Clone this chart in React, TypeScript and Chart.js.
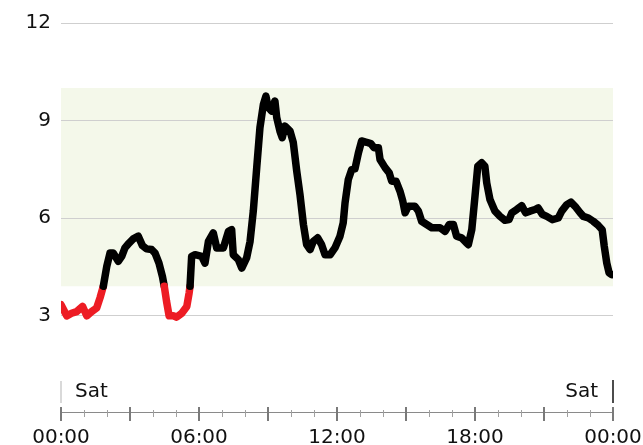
import React, { useEffect, useRef } from 'react';
import { Chart, registerables } from 'chart.js';

Chart.register(...registerables);

// Time of day (hours since midnight) and glucose readings (mmol/L)
const hours = [
  0.0, 0.25, 0.46, 0.68, 0.94, 1.12, 1.33, 1.55, 1.7, 1.84, 1.99, 2.13, 2.27, 2.49, 2.64, 2.78, 2.96, 3.14, 3.36, 3.54,
  3.72, 3.94, 4.09, 4.26, 4.41, 4.49, 4.59, 4.7, 4.88, 5.03, 5.25, 5.47, 5.57, 5.61, 5.68, 5.83, 6.12, 6.26, 6.41, 6.62,
  6.77, 7.06, 7.28, 7.42, 7.49, 7.71, 7.86, 8.07, 8.22, 8.36, 8.51, 8.65, 8.8, 8.91, 9.01, 9.16, 9.3, 9.38, 9.52, 9.62,
  9.74, 9.96, 10.1, 10.25, 10.39, 10.54, 10.68, 10.83, 10.97, 11.16, 11.33, 11.48, 11.7, 11.91, 12.13, 12.27, 12.35, 12.49, 12.64, 12.78,
  12.93, 13.07, 13.29, 13.47, 13.61, 13.8, 13.87, 14.09, 14.27, 14.38, 14.57, 14.74, 14.86, 14.96, 15.1, 15.39, 15.54, 15.68, 15.9, 16.12,
  16.48, 16.7, 16.88, 17.06, 17.2, 17.42, 17.64, 17.71, 17.86, 18.0, 18.12, 18.29, 18.43, 18.51, 18.65, 18.87, 19.09, 19.3, 19.48, 19.6,
  19.81, 20.03, 20.2, 20.39, 20.61, 20.75, 20.93, 21.12, 21.36, 21.62, 21.77, 21.99, 22.17, 22.35, 22.57, 22.71, 22.93, 23.14, 23.36, 23.53,
  23.62, 23.73, 23.83, 23.94,
];
const glucose = [
  3.33, 2.99, 3.07, 3.12, 3.28, 2.99, 3.12, 3.23, 3.55, 3.9, 4.51, 4.92, 4.92, 4.67, 4.82, 5.08, 5.23, 5.36, 5.44, 5.15,
  5.05, 5.03, 4.92, 4.61, 4.2, 3.9, 3.43, 2.99, 2.99, 2.95, 3.07, 3.28, 3.69, 3.9, 4.82, 4.87, 4.82, 4.61, 5.28, 5.54,
  5.08, 5.08, 5.59, 5.64, 4.87, 4.72, 4.46, 4.77, 5.28, 6.21, 7.55, 8.78, 9.5, 9.75, 9.4, 9.29, 9.6, 9.09, 8.67, 8.47,
  8.83, 8.67, 8.32, 7.44, 6.72, 5.8, 5.18, 5.03, 5.28, 5.39, 5.18, 4.87, 4.87, 5.08, 5.44, 5.85, 6.47, 7.18, 7.49, 7.51,
  8.0, 8.37, 8.33, 8.29, 8.16, 8.16, 7.8, 7.55, 7.39, 7.13, 7.13, 6.82, 6.52, 6.16, 6.36, 6.36, 6.21, 5.9, 5.8, 5.7,
  5.7, 5.59, 5.8, 5.8, 5.44, 5.39, 5.23, 5.18, 5.64, 6.67, 7.59, 7.7, 7.59, 7.08, 6.57, 6.21, 6.05, 5.93, 5.95, 6.16,
  6.26, 6.38, 6.16, 6.21, 6.26, 6.31, 6.11, 6.05, 5.95, 6.0, 6.21, 6.41, 6.49, 6.36, 6.16, 6.05, 6.0, 5.9, 5.77, 5.64,
  5.13, 4.61, 4.31, 4.26,
];

const yTicks = [3, 6, 9, 12];
const xLabelHours = [0, 6, 12, 18, 24];
const xLabels = ['00:00', '06:00', '12:00', '18:00', '00:00'];
const dayLabels = ['Sat', 'Sat'];
const targetLow = 3.9;
const targetHigh = 10;

const FONT = 'DejaVu Sans';
const BLACK = '#000000';
const RED = '#ed1c24';

const bandPlugin = {
  id: 'targetBand',
  beforeDraw(chart: any) {
    const { ctx, chartArea, scales } = chart;
    const y = scales.y;
    const top = y.getPixelForValue(targetHigh);
    const bottom = y.getPixelForValue(targetLow);
    ctx.save();
    ctx.fillStyle = '#f4f8ea';
    ctx.fillRect(chartArea.left, top, chartArea.right - chartArea.left, bottom - top);
    ctx.restore();
  },
};

const axisPlugin = {
  id: 'timeAxis',
  afterDraw(chart: any) {
    const { ctx, chartArea, scales } = chart;
    const x = scales.x;
    const b = chartArea.bottom;
    const lineY = b - 1;
    ctx.save();
    // axis line
    ctx.strokeStyle = '#8a8a8a';
    ctx.lineWidth = 1;
    ctx.beginPath();
    ctx.moveTo(x.getPixelForValue(0), lineY + 0.5);
    ctx.lineTo(x.getPixelForValue(24), lineY + 0.5);
    ctx.stroke();
    // ticks
    for (let h = 0; h <= 24; h++) {
      const px = Math.round(x.getPixelForValue(h));
      ctx.beginPath();
      if (h % 3 === 0) {
        ctx.strokeStyle = '#7a7a7a';
        ctx.lineWidth = 2;
        ctx.moveTo(px, lineY - 5);
        ctx.lineTo(px, lineY + 9);
      } else {
        ctx.strokeStyle = '#a0a0a0';
        ctx.lineWidth = 1;
        ctx.moveTo(px + 0.5, lineY - 2);
        ctx.lineTo(px + 0.5, lineY + 5);
      }
      ctx.stroke();
    }
    // day labels
    const x0 = x.getPixelForValue(0);
    const x1 = x.getPixelForValue(24);
    ctx.font = `20px "${FONT}"`;
    ctx.fillStyle = '#111111';
    ctx.textBaseline = 'alphabetic';
    ctx.textAlign = 'left';
    ctx.fillText(dayLabels[0], x0 + 14, b - 16);
    ctx.textAlign = 'right';
    ctx.fillText(dayLabels[1], x1 - 15, b - 16);
    ctx.lineWidth = 1.5;
    ctx.strokeStyle = '#cccccc';
    ctx.beginPath();
    ctx.moveTo(x0, b - 32);
    ctx.lineTo(x0, b - 10);
    ctx.stroke();
    ctx.strokeStyle = '#111111';
    ctx.beginPath();
    ctx.moveTo(x1, b - 33);
    ctx.lineTo(x1, b - 10);
    ctx.stroke();
    ctx.restore();
  },
};

export default function App() {
  const ref = useRef<HTMLCanvasElement>(null);
  useEffect(() => {
    const data = hours.map((h, i) => ({ x: h, y: glucose[i] }));
    const chart = new Chart(ref.current as HTMLCanvasElement, {
      type: 'line',
      data: {
        datasets: [
          {
            data,
            borderColor: BLACK,
            borderWidth: 7.5,
            borderCapStyle: 'round',
            borderJoinStyle: 'round',
            pointRadius: 0,
            tension: 0,
            fill: false,
            segment: {
              borderColor: (c: any) => ((c.p0.parsed.y + c.p1.parsed.y) / 2 < targetLow ? RED : BLACK),
            },
          } as any,
        ],
      },
      options: {
        responsive: false,
        animation: false,
        devicePixelRatio: 1,
        layout: { padding: { top: 23, right: 30, left: 0, bottom: 0 } },
        plugins: { legend: { display: false }, tooltip: { enabled: false } },
        scales: {
          x: {
            type: 'linear',
            min: 0,
            max: 24,
            afterBuildTicks: (s: any) => {
              s.ticks = xLabelHours.map((v) => ({ value: v }));
            },
            afterFit: (s: any) => {
              s.height = 32;
              s.paddingLeft = 0;
              s.paddingRight = 0;
            },
            grid: { display: false, drawTicks: false },
            border: { display: false },
            ticks: {
              autoSkip: false,
              maxRotation: 0,
              padding: 13,
              color: '#111111',
              font: { family: FONT, size: 20 },
              callback: (v: any) => {
                const i = xLabelHours.indexOf(Number(v));
                return i >= 0 ? xLabels[i] : '';
              },
            },
          },
          y: {
            min: 0,
            max: 12,
            afterBuildTicks: (s: any) => {
              s.ticks = [0, ...yTicks].map((v) => ({ value: v }));
            },
            afterFit: (s: any) => {
              s.width = 61;
              s.paddingTop = 0;
              s.paddingBottom = 0;
            },
            grid: {
              drawTicks: false,
              lineWidth: 1,
              color: (c: any) => (c.tick && c.tick.value === 0 ? 'rgba(0,0,0,0)' : '#cfcfcf'),
            },
            border: { display: false },
            ticks: {
              padding: 10,
              color: '#111111',
              font: { family: FONT, size: 20 },
              callback: (v: any) => (Number(v) === 0 ? '' : String(v)),
            },
          },
        },
      },
      plugins: [bandPlugin, axisPlugin],
    });
    return () => chart.destroy();
  }, []);
  return (
    <div style={{ position: 'absolute', left: 0, top: 0, width: 643, height: 445 }}>
      <canvas ref={ref} width={643} height={445} style={{ display: 'block' }} />
    </div>
  );
}
